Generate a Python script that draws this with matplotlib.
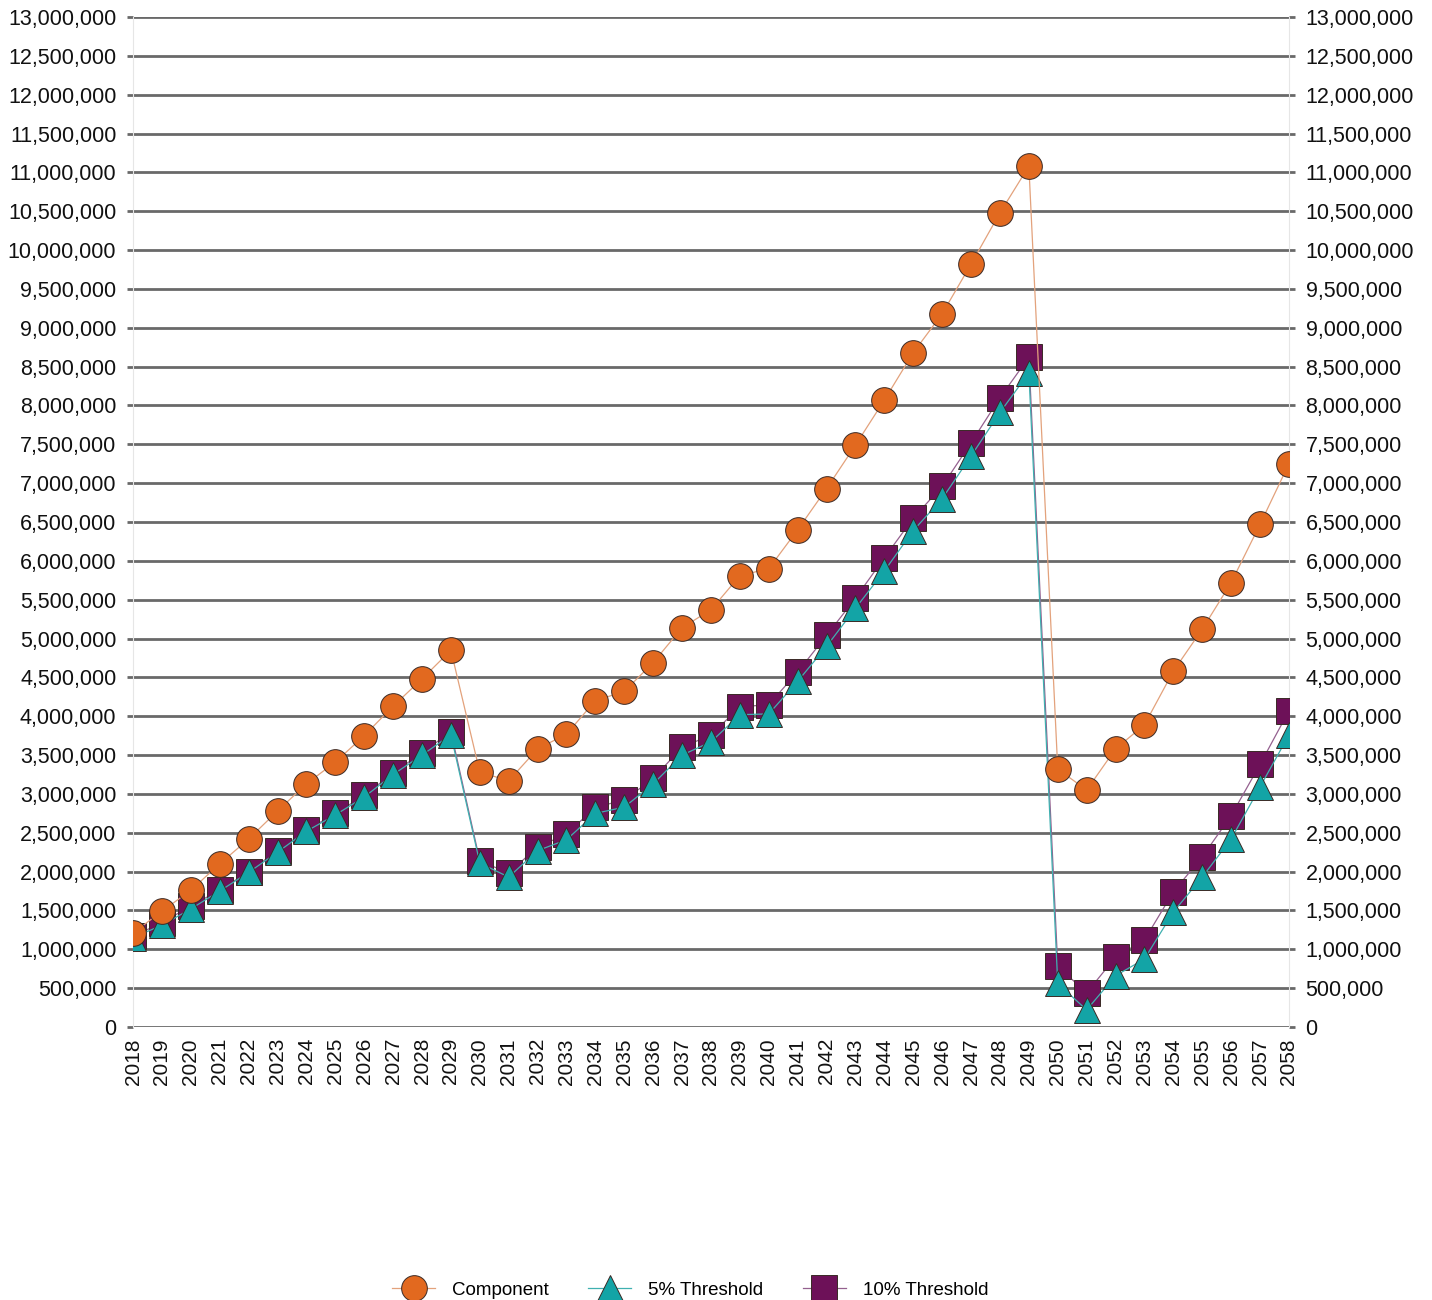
import matplotlib
matplotlib.use("Agg")
import matplotlib.pyplot as plt
from matplotlib.ticker import FuncFormatter, MultipleLocator

plt.rcParams['font.family'] = ['Liberation Sans', 'DejaVu Sans']

# --- data (values in millions) ---
years = list(range(2018, 2059))

component = [1.21, 1.49, 1.76, 2.10, 2.42, 2.78, 3.13, 3.41, 3.75, 4.13, 4.48, 4.85,
             3.28, 3.17, 3.58, 3.77, 4.20, 4.32, 4.69, 5.14, 5.37, 5.81,
             5.90, 6.40, 6.93, 7.49, 8.07, 8.68, 9.18, 9.82, 10.48, 11.08,
             3.32, 3.05, 3.58, 3.89, 4.58, 5.12, 5.72, 6.47, 7.25]

threshold_5 = [1.15, 1.31, 1.52, 1.75, 1.99, 2.25, 2.52, 2.73, 2.96, 3.25, 3.50, 3.76,
               2.11, 1.93, 2.27, 2.41, 2.75, 2.83, 3.13, 3.50, 3.67, 4.02,
               4.03, 4.45, 4.90, 5.39, 5.87, 6.39, 6.80, 7.35, 7.91, 8.42,
               0.56, 0.22, 0.66, 0.875, 1.48, 1.93, 2.42, 3.09, 3.76]

threshold_10 = [1.17, 1.34, 1.56, 1.76, 2.00, 2.27, 2.53, 2.75, 2.98, 3.27, 3.53, 3.80,
                2.14, 1.98, 2.32, 2.48, 2.83, 2.92, 3.20, 3.60, 3.76, 4.12,
                4.15, 4.57, 5.04, 5.52, 6.04, 6.55, 6.96, 7.52, 8.10, 8.62,
                0.78, 0.44, 0.90, 1.12, 1.74, 2.19, 2.72, 3.38, 4.07]

scale = 1_000_000
comp_v = [v * scale for v in component]
t5_v = [v * scale for v in threshold_5]
t10_v = [v * scale for v in threshold_10]

# --- plot ---
fig = plt.figure(figsize=(14.32, 13), dpi=100)
ax = fig.add_axes([0.0929, 0.21, 0.9001 - 0.0929, 0.9869 - 0.21])

ms = 18.5
edge = "#3a2a25"
h10, = ax.plot(years, t10_v, color="#94608f", lw=0.9, marker="s", ms=ms,
               mfc="#6d1158", mec=edge, mew=0.7, zorder=3, label="10% Threshold")
h5, = ax.plot(years, t5_v, color="#3fb0b0", lw=0.9, marker="^", ms=ms,
              mfc="#13a4a6", mec=edge, mew=0.7, zorder=4, label="5% Threshold")
hc, = ax.plot(years, comp_v, color="#e3a27c", lw=0.9, marker="o", ms=ms,
              mfc="#e2691f", mec=edge, mew=0.7, zorder=5, label="Component")

ax.set_xlim(2018, 2058)
ax.set_ylim(0, 13_000_000)
ax.yaxis.set_major_locator(MultipleLocator(500_000))
ax.yaxis.set_major_formatter(FuncFormatter(lambda v, p: f"{v:,.0f}"))
ax.set_xticks(years)
ax.set_xticklabels([str(y) for y in years], rotation=90)

ax.grid(axis="y", color="#696969", lw=2.0, zorder=1)
ax.set_axisbelow(True)
for s in ["top", "bottom"]:
    ax.spines[s].set_visible(False)
for s in ["left", "right"]:
    ax.spines[s].set_color("#e6e6e6")
    ax.spines[s].set_linewidth(0.8)

ax.tick_params(axis="y", which="both", left=True, right=True, labelleft=True,
               labelright=True, length=4, width=2, color="#696969", pad=8,
               labelsize=15.5, labelcolor="#111111")
ax.tick_params(axis="x", length=0, pad=8, labelsize=15, labelcolor="#111111")

fig.legend(handles=[hc, h5, h10], loc="lower center", bbox_to_anchor=(0.482, -0.012),
           ncol=3, frameon=False, fontsize=13.5, handlelength=2.3, handletextpad=0.9,
           columnspacing=2.1)

fig.savefig("out.png", dpi=100)
